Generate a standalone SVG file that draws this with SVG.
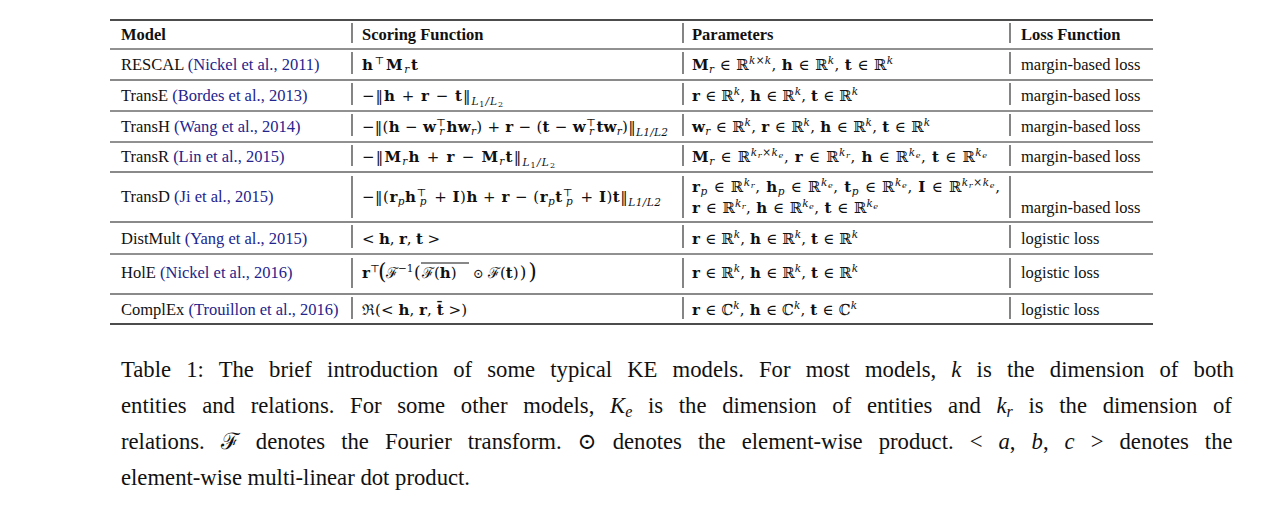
<svg xmlns="http://www.w3.org/2000/svg" width="1276" height="505" viewBox="0 0 1276 505">
<style>
text{font-family:"Liberation Serif","DejaVu Serif",serif;font-size:16.5px;fill:#111}
.m{font-family:"DejaVu Serif","Liberation Serif",serif;font-size:15px}
.h{font-weight:bold}
.b{font-weight:bold}
.i{font-style:italic}
.c{fill:#24248c}
.s{font-size:10.5px}
.ss{font-size:8px}
.big{font-size:22px}
.mid{font-size:17px}
.cap{font-size:22.7px}
.rule{stroke:#222;stroke-width:1}
.rg{stroke:#8a8a8a;stroke-width:1.8}
.rk{stroke:#111;stroke-width:1.6}
.bar{stroke:#222;stroke-width:1.1}
</style>
<rect width="1276" height="505" fill="#fff"/>
<g id="rules">
<line class="rk" x1="110" y1="20" x2="1153" y2="20"/>
<line class="rule" x1="110" y1="49" x2="1153" y2="49"/>
<line class="rg" x1="110" y1="80" x2="1153" y2="80"/>
<line class="rule" x1="110" y1="111" x2="1153" y2="111"/>
<line class="rule" x1="110" y1="142" x2="1153" y2="142" stroke="#555"/>
<line class="rg" x1="110" y1="172" x2="1153" y2="172"/>
<line class="rg" x1="110" y1="222" x2="1153" y2="222"/>
<line class="rule" x1="110" y1="254" x2="1153" y2="254"/>
<line class="rg" x1="110" y1="294" x2="1153" y2="294"/>
<line class="rk" x1="110" y1="324" x2="1153" y2="324"/>
</g>
<g id="bars">
<path class="bar" d="M352 23V43M683 23V43M1010 23V43
M352 52V74M683 52V74M1010 52V74
M352 83V105M683 83V105M1010 83V105
M352 114V136M683 114V136M1010 114V136
M352 145V166M683 145V166M1010 145V166
M352 176V218M683 176V218M1010 176V218
M352 225V248M683 225V248M1010 225V248
M352 258V288M683 258V288M1010 258V288
M352 297V319M683 297V319M1010 297V319"/>
</g>
<g id="header">
<text class="h" x="121" y="40">Model</text>
<text class="h" x="362" y="40">Scoring Function</text>
<text class="h" x="692" y="40">Parameters</text>
<text class="h" x="1021" y="40">Loss Function</text>
</g>
<g id="row-rescal">
<text x="121" y="70">RESCAL <tspan class="c">(Nickel et al., 2011)</tspan></text>
<text class="m" x="362" y="70" textLength="56" lengthAdjust="spacing"><tspan class="b">h</tspan><tspan class="s" dy="-6">⊤</tspan><tspan class="b" dy="6">M</tspan><tspan class="s i" dy="3">r</tspan><tspan class="b" dy="-3">t</tspan></text>
<text class="m" x="692" y="70" textLength="201" lengthAdjust="spacing"><tspan class="b">M</tspan><tspan class="s i" dy="3">r</tspan><tspan dy="-3"> ∈ ℝ</tspan><tspan class="s i" dy="-6">k</tspan><tspan class="s">×</tspan><tspan class="s i">k</tspan><tspan dy="6">, </tspan><tspan class="b">h</tspan> ∈ ℝ<tspan class="s i" dy="-6">k</tspan><tspan dy="6">, </tspan><tspan class="b">t</tspan> ∈ ℝ<tspan class="s i" dy="-6">k</tspan></text>
<text x="1021" y="70">margin-based loss</text>
</g>
<g id="row-transe">
<text x="121" y="101">TransE <tspan class="c">(Bordes et al., 2013)</tspan></text>
<text class="m" x="362" y="101" textLength="141" lengthAdjust="spacing">−‖<tspan class="b">h</tspan> + <tspan class="b">r</tspan> − <tspan class="b">t</tspan>‖<tspan class="s i" dy="4">L</tspan><tspan class="ss" dy="2">1</tspan><tspan class="s i" dy="-2">/L</tspan><tspan class="ss" dy="2">2</tspan></text>
<text class="m" x="692" y="101" textLength="166" lengthAdjust="spacing"><tspan class="b">r</tspan> ∈ ℝ<tspan class="s i" dy="-6">k</tspan><tspan dy="6">, </tspan><tspan class="b">h</tspan> ∈ ℝ<tspan class="s i" dy="-6">k</tspan><tspan dy="6">, </tspan><tspan class="b">t</tspan> ∈ ℝ<tspan class="s i" dy="-6">k</tspan></text>
<text x="1021" y="101">margin-based loss</text>
</g>
<g id="row-transh">
<text x="121" y="132">TransH <tspan class="c">(Wang et al., 2014)</tspan></text>
<text class="m" x="362" y="132" textLength="306" lengthAdjust="spacing">−‖(<tspan class="b">h</tspan> − <tspan class="b">w</tspan><tspan class="s" dy="-6">⊤</tspan><tspan class="s i" dx="-7" dy="9">r</tspan><tspan class="b" dy="-3" dx="2">hw</tspan><tspan class="s i" dy="3">r</tspan><tspan dy="-3">) + </tspan><tspan class="b">r</tspan> − (<tspan class="b">t</tspan> − <tspan class="b">w</tspan><tspan class="s" dy="-6">⊤</tspan><tspan class="s i" dx="-7" dy="9">r</tspan><tspan class="b" dy="-3" dx="2">tw</tspan><tspan class="s i" dy="3">r</tspan><tspan dy="-3">)‖</tspan><tspan class="s i" dy="4">L1/L2</tspan></text>
<text class="m" x="692" y="132" textLength="238" lengthAdjust="spacing"><tspan class="b">w</tspan><tspan class="s i" dy="3">r</tspan><tspan dy="-3"> ∈ ℝ</tspan><tspan class="s i" dy="-6">k</tspan><tspan dy="6">, </tspan><tspan class="b">r</tspan> ∈ ℝ<tspan class="s i" dy="-6">k</tspan><tspan dy="6">, </tspan><tspan class="b">h</tspan> ∈ ℝ<tspan class="s i" dy="-6">k</tspan><tspan dy="6">, </tspan><tspan class="b">t</tspan> ∈ ℝ<tspan class="s i" dy="-6">k</tspan></text>
<text x="1021" y="132">margin-based loss</text>
</g>
<g id="row-transr">
<text x="121" y="162">TransR <tspan class="c">(Lin et al., 2015)</tspan></text>
<text class="m" x="362" y="162" textLength="193" lengthAdjust="spacing">−‖<tspan class="b">M</tspan><tspan class="s i" dy="3">r</tspan><tspan class="b" dy="-3">h</tspan> + <tspan class="b">r</tspan> − <tspan class="b">M</tspan><tspan class="s i" dy="3">r</tspan><tspan class="b" dy="-3">t</tspan>‖<tspan class="s i" dy="4">L</tspan><tspan class="ss" dy="2">1</tspan><tspan class="s i" dy="-2">/L</tspan><tspan class="ss" dy="2">2</tspan></text>
<text class="m" x="692" y="162" textLength="295" lengthAdjust="spacing"><tspan class="b">M</tspan><tspan class="s i" dy="3">r</tspan><tspan dy="-3"> ∈ ℝ</tspan><tspan class="s i" dy="-6">k</tspan><tspan class="ss i" dy="2">r</tspan><tspan class="s" dy="-2">×</tspan><tspan class="s i">k</tspan><tspan class="ss i" dy="2">e</tspan><tspan dy="4">, </tspan><tspan class="b">r</tspan> ∈ ℝ<tspan class="s i" dy="-6">k</tspan><tspan class="ss i" dy="2">r</tspan><tspan dy="4">, </tspan><tspan class="b">h</tspan> ∈ ℝ<tspan class="s i" dy="-6">k</tspan><tspan class="ss i" dy="2">e</tspan><tspan dy="4">, </tspan><tspan class="b">t</tspan> ∈ ℝ<tspan class="s i" dy="-6">k</tspan><tspan class="ss i" dy="2">e</tspan></text>
<text x="1021" y="162">margin-based loss</text>
</g>
<g id="row-transd">
<text x="121" y="202">TransD <tspan class="c">(Ji et al., 2015)</tspan></text>
<text class="m" x="362" y="202" textLength="299" lengthAdjust="spacing">−‖(<tspan class="b">r</tspan><tspan class="s i" dy="3">p</tspan><tspan class="b" dy="-3">h</tspan><tspan class="s" dy="-6">⊤</tspan><tspan class="s i" dx="-7" dy="9">p</tspan><tspan dy="-3" dx="2"> + </tspan><tspan class="b">I</tspan>)<tspan class="b">h</tspan> + <tspan class="b">r</tspan> − (<tspan class="b">r</tspan><tspan class="s i" dy="3">p</tspan><tspan class="b" dy="-3">t</tspan><tspan class="s" dy="-6">⊤</tspan><tspan class="s i" dx="-7" dy="9">p</tspan><tspan dy="-3" dx="2"> + </tspan><tspan class="b">I</tspan>)<tspan class="b">t</tspan>‖<tspan class="s i" dy="4">L1/L2</tspan></text>
<text class="m" x="692" y="192" textLength="308" lengthAdjust="spacing"><tspan class="b">r</tspan><tspan class="s i" dy="3">p</tspan><tspan dy="-3"> ∈ ℝ</tspan><tspan class="s i" dy="-6">k</tspan><tspan class="ss i" dy="2">r</tspan><tspan dy="4">, </tspan><tspan class="b">h</tspan><tspan class="s i" dy="3">p</tspan><tspan dy="-3"> ∈ ℝ</tspan><tspan class="s i" dy="-6">k</tspan><tspan class="ss i" dy="2">e</tspan><tspan dy="4">, </tspan><tspan class="b">t</tspan><tspan class="s i" dy="3">p</tspan><tspan dy="-3"> ∈ ℝ</tspan><tspan class="s i" dy="-6">k</tspan><tspan class="ss i" dy="2">e</tspan><tspan dy="4">, </tspan><tspan class="b">I</tspan> ∈ ℝ<tspan class="s i" dy="-6">k</tspan><tspan class="ss i" dy="2">r</tspan><tspan class="s" dy="-2">×</tspan><tspan class="s i">k</tspan><tspan class="ss i" dy="2">e</tspan><tspan dy="4">,</tspan></text>
<text class="m" x="692" y="213" textLength="186" lengthAdjust="spacing"><tspan class="b">r</tspan> ∈ ℝ<tspan class="s i" dy="-6">k</tspan><tspan class="ss i" dy="2">r</tspan><tspan dy="4">, </tspan><tspan class="b">h</tspan> ∈ ℝ<tspan class="s i" dy="-6">k</tspan><tspan class="ss i" dy="2">e</tspan><tspan dy="4">, </tspan><tspan class="b">t</tspan> ∈ ℝ<tspan class="s i" dy="-6">k</tspan><tspan class="ss i" dy="2">e</tspan></text>
<text x="1021" y="213">margin-based loss</text>
</g>
<g id="row-distmult">
<text x="121" y="244">DistMult <tspan class="c">(Yang et al., 2015)</tspan></text>
<text class="m" x="362" y="244" textLength="78" lengthAdjust="spacing">&lt; <tspan class="b">h</tspan>, <tspan class="b">r</tspan>, <tspan class="b">t</tspan> &gt;</text>
<text class="m" x="692" y="244" textLength="166" lengthAdjust="spacing"><tspan class="b">r</tspan> ∈ ℝ<tspan class="s i" dy="-6">k</tspan><tspan dy="6">, </tspan><tspan class="b">h</tspan> ∈ ℝ<tspan class="s i" dy="-6">k</tspan><tspan dy="6">, </tspan><tspan class="b">t</tspan> ∈ ℝ<tspan class="s i" dy="-6">k</tspan></text>
<text x="1021" y="244">logistic loss</text>
</g>
<g id="row-hole">
<text x="121" y="278">HolE <tspan class="c">(Nickel et al., 2016)</tspan></text>
<text class="m" x="362" y="278"><tspan class="b">r</tspan><tspan class="s" dy="-6">⊤</tspan><tspan class="big" x="378" dy="7">(</tspan><tspan x="386" dy="-1">ℱ</tspan><tspan class="s" dy="-6">−1</tspan><tspan class="mid" x="414" dy="6">(</tspan><tspan x="422">ℱ(</tspan><tspan class="b">h</tspan>)<tspan x="473" font-size="13">⊙</tspan><tspan x="488">ℱ(</tspan><tspan class="b">t</tspan>)<tspan class="mid" dx="1">)</tspan><tspan class="big" dx="2" dy="1">)</tspan></text>
<line x1="421" y1="263" x2="469" y2="263" stroke="#111" stroke-width="1"/>
<text class="m" x="692" y="278" textLength="166" lengthAdjust="spacing"><tspan class="b">r</tspan> ∈ ℝ<tspan class="s i" dy="-6">k</tspan><tspan dy="6">, </tspan><tspan class="b">h</tspan> ∈ ℝ<tspan class="s i" dy="-6">k</tspan><tspan dy="6">, </tspan><tspan class="b">t</tspan> ∈ ℝ<tspan class="s i" dy="-6">k</tspan></text>
<text x="1021" y="278">logistic loss</text>
</g>
<g id="row-complex">
<text x="121" y="315">ComplEx <tspan class="c">(Trouillon et al., 2016)</tspan></text>
<text class="m" x="362" y="315" textLength="105" lengthAdjust="spacing">ℜ(&lt; <tspan class="b">h</tspan>, <tspan class="b">r</tspan>, <tspan class="b">t̄</tspan> &gt;)</text>
<text class="m" x="692" y="315" textLength="165" lengthAdjust="spacing"><tspan class="b">r</tspan> ∈ ℂ<tspan class="s i" dy="-6">k</tspan><tspan dy="6">, </tspan><tspan class="b">h</tspan> ∈ ℂ<tspan class="s i" dy="-6">k</tspan><tspan dy="6">, </tspan><tspan class="b">t</tspan> ∈ ℂ<tspan class="s i" dy="-6">k</tspan></text>
<text x="1021" y="315">logistic loss</text>
</g>
<g id="caption">
<text class="cap" x="121" y="377" word-spacing="9.5">Table 1: The brief introduction of some typical KE models. For most models, <tspan class="i">k</tspan> is the dimension of both</text>
<text class="cap" x="121" y="413" word-spacing="10">entities and relations. For some other models, <tspan class="i">K</tspan><tspan class="i" font-size="16" dy="4">e</tspan><tspan dy="-4"> is the dimension of entities and </tspan><tspan class="i">k</tspan><tspan class="i" font-size="16" dy="4">r</tspan><tspan dy="-4"> is the dimension of</tspan></text>
<text class="cap" x="121" y="449" word-spacing="10.35">relations. ℱ denotes the Fourier transform. ⊙ denotes the element-wise product. &lt; <tspan class="i">a</tspan>, <tspan class="i">b</tspan>, <tspan class="i">c</tspan> &gt; denotes the</text>
<text class="cap" x="121" y="485">element-wise multi-linear dot product.</text>
</g>
</svg>
